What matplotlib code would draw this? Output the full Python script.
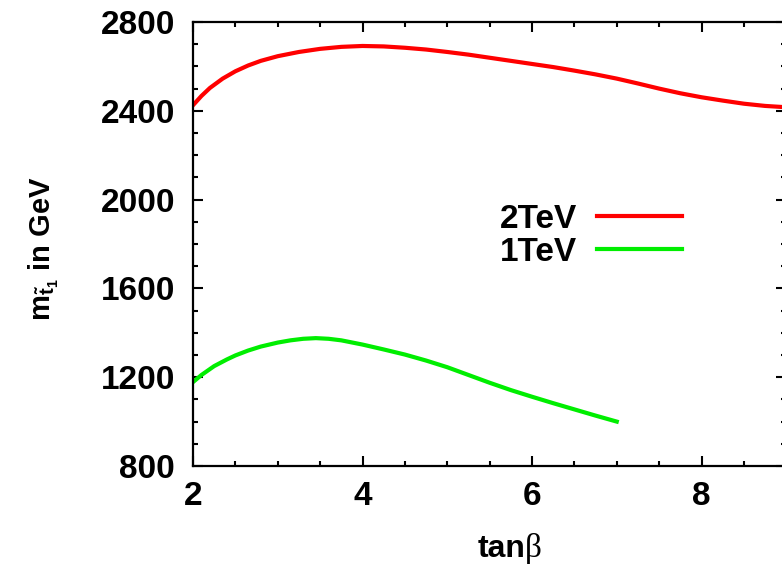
import matplotlib
matplotlib.use("Agg")
import matplotlib.pyplot as plt

plt.rcParams['font.family'] = ['Liberation Sans', 'DejaVu Sans']
plt.rcParams['font.weight'] = 'bold'
plt.rcParams['mathtext.fontset'] = 'custom'
plt.rcParams['mathtext.rm'] = 'Liberation Sans:bold'
plt.rcParams['mathtext.bf'] = 'Liberation Sans:bold'

# stop mass vs tan(beta) for two scales
tanb_2tev = [2.0, 2.1, 2.2, 2.35, 2.5, 2.65, 2.8, 3.0, 3.25, 3.5, 3.75, 4.0, 4.25,
             4.5, 4.75, 5.0, 5.25, 5.5, 5.75, 6.0, 6.25, 6.5, 6.75, 7.0, 7.25,
             7.5, 7.75, 8.0, 8.25, 8.5, 8.75, 9.0]
mst_2tev = [2425, 2467, 2503, 2545, 2578, 2604, 2625, 2646, 2665, 2679, 2688, 2692,
            2690, 2684, 2676, 2665, 2653, 2639, 2625, 2611, 2597, 2581, 2564, 2545,
            2523, 2500, 2479, 2461, 2446, 2432, 2422, 2416]

tanb_1tev = [2.0, 2.1, 2.25, 2.4, 2.5, 2.65, 2.8, 3.0, 3.15, 3.3, 3.45, 3.6, 3.75,
             4.0, 4.25, 4.5, 4.75, 5.0, 5.25, 5.5, 5.75, 6.0, 6.25, 6.5, 6.75, 7.0]
mst_1tev = [1178, 1210, 1250, 1280, 1298, 1320, 1338, 1356, 1366, 1373, 1376, 1373,
            1366, 1347, 1325, 1302, 1275, 1245, 1210, 1175, 1142, 1112, 1083, 1055,
            1027, 1000]

xticks = [2, 4, 6, 8]
yticks = [800, 1200, 1600, 2000, 2400, 2800]

fig = plt.figure(figsize=(7.82, 5.66), dpi=100)
ax = fig.add_axes([193 / 782, 100 / 566, 593.25 / 782, 444 / 566])

ax.plot(tanb_2tev, mst_2tev, color='#ff0000', lw=3, label='2TeV')
ax.plot(tanb_1tev, mst_1tev, color='#00ee00', lw=3, label='1TeV')

ax.set_xlim(2, 9)
ax.set_ylim(800, 2800)
ax.set_xticks(xticks)
ax.set_yticks(yticks)
ax.set_xticks([x / 2 for x in range(4, 19)], minor=True)
ax.set_yticks(range(800, 2801, 100), minor=True)
ax.tick_params(which='both', direction='in', top=True, right=True, width=1.5,
               labelsize=24)
ax.tick_params(which='major', length=7)
ax.tick_params(which='minor', length=3.5)
ax.tick_params(axis='y', pad=13)
ax.tick_params(axis='x', pad=11)
for s in ax.spines.values():
    s.set_linewidth(1.6)
    s.set_clip_on(False)

# x label: bold "tan" followed by a serif beta
fig.text(525 / 782, 1 - 549 / 566, 'tan', fontsize=23, fontweight='bold',
         ha='right', va='center')
fig.text(525 / 782, 1 - 549 / 566, '\u03b2', fontsize=24, fontweight='normal',
         family='Liberation Serif', ha='left', va='center')

ax.set_ylabel(r'$\mathbf{m}_{\tilde{\mathbf{t}}_{\mathbf{1}}}$ in GeV', fontsize=21,
              fontweight='bold')
ax.yaxis.set_label_coords(-0.222, 0.49)

ax.legend(markerfirst=False, frameon=False, fontsize=24, handlelength=2.55,
          handletextpad=0.6, labelspacing=0.05, borderpad=0, borderaxespad=0,
          loc='upper right', bbox_to_anchor=(682 / 782, 1 - 204 / 566),
          bbox_transform=fig.transFigure)

fig.savefig('out.png', dpi=100)
